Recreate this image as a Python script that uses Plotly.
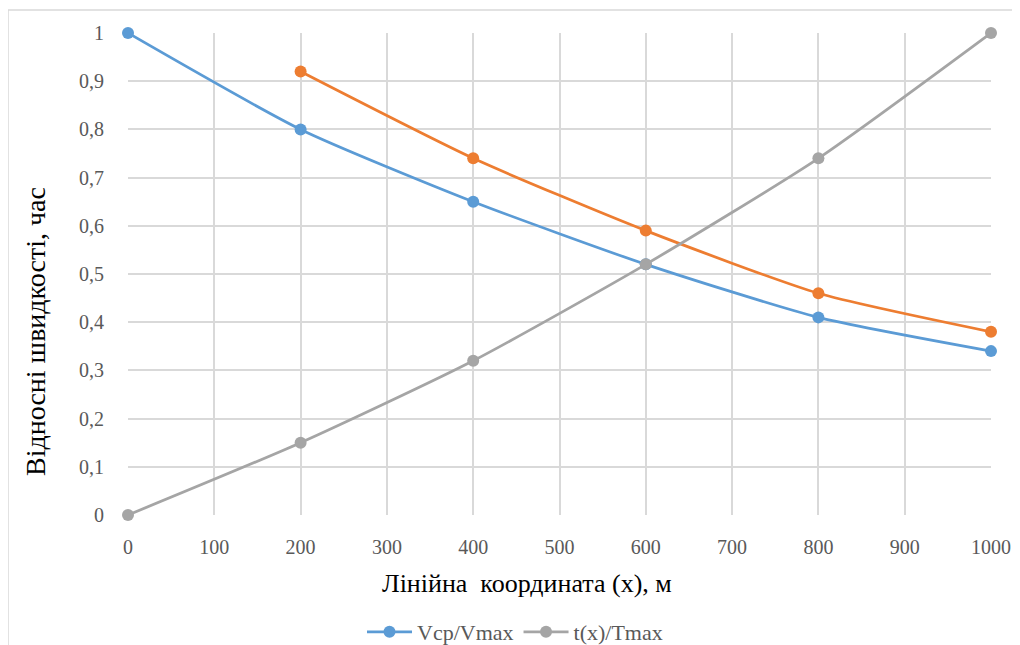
import plotly.graph_objects as go

x_vals = [0, 200, 400, 600, 800, 1000]
v_ratio = [1.0, 0.80, 0.65, 0.52, 0.41, 0.34]
x_orange = [200, 400, 600, 800, 1000]
orange_vals = [0.92, 0.74, 0.59, 0.46, 0.38]
t_ratio = [0.0, 0.15, 0.32, 0.52, 0.74, 1.0]

x_ticks = [0, 100, 200, 300, 400, 500, 600, 700, 800, 900, 1000]
y_ticks = [0, 0.1, 0.2, 0.3, 0.4, 0.5, 0.6, 0.7, 0.8, 0.9, 1.0]
y_tick_labels = ["0", "0,1", "0,2", "0,3", "0,4", "0,5", "0,6", "0,7", "0,8", "0,9", "1"]

W, H = 1020, 680
OFF = 8  # page body margin
L, R, T, B = 128 - OFF, 991 - OFF, 33 - OFF, 515 - OFF

def fx(px):
    return (px - OFF - L) / (R - L)

def fy(py):
    return (B - (py - OFF)) / (B - T)

SERIF = "Times New Roman, Liberation Serif, serif"

fig = go.Figure()
fig.add_trace(go.Scatter(x=x_vals, y=v_ratio, name="Vcp/Vmax", mode="lines+markers", cliponaxis=False,
                         line=dict(color="#5B9BD5", width=2.75, shape="spline", smoothing=0.6),
                         marker=dict(size=12, color="#5B9BD5")))
fig.add_trace(go.Scatter(x=x_orange, y=orange_vals, name="", mode="lines+markers", showlegend=False,
                         cliponaxis=False,
                         line=dict(color="#ED7D31", width=2.75, shape="spline", smoothing=0.6),
                         marker=dict(size=12, color="#ED7D31")))
fig.add_trace(go.Scatter(x=x_vals, y=t_ratio, name="t(x)/Tmax", mode="lines+markers", cliponaxis=False,
                         line=dict(color="#A5A5A5", width=2.75, shape="spline", smoothing=0.6),
                         marker=dict(size=12, color="#A5A5A5")))

tick_font = dict(family=SERIF, size=20, color="#595959")

fig.update_layout(
    width=W, height=H,
    margin=dict(l=L, r=W - R, t=T, b=H - B, pad=0),
    paper_bgcolor="white", plot_bgcolor="white",
    showlegend=True,
    legend=dict(orientation="h", x=fx(515), y=fy(632), xanchor="center", yanchor="middle",
                font=dict(family=SERIF, size=22, color="#595959"),
                itemwidth=45, bgcolor="rgba(0,0,0,0)"),
    xaxis=dict(range=[0, 1000], tickvals=x_ticks, ticktext=[str(v) for v in x_ticks],
               showgrid=True, gridcolor="#D9D9D9", gridwidth=1.5, zeroline=False, automargin=False,
               showline=False, ticks="outside", ticklen=14, tickcolor="rgba(0,0,0,0)",
               tickfont=tick_font),
    yaxis=dict(range=[0, 1], tickvals=y_ticks, ticktext=y_tick_labels,
               showgrid=True, gridcolor="#D9D9D9", gridwidth=1.5, zeroline=False, automargin=False,
               showline=False, ticks="outside", ticklen=19, tickcolor="rgba(0,0,0,0)",
               tickfont=tick_font),
    annotations=[
        dict(text="Лінійна\u00a0 координата (x), м", xref="paper", yref="paper",
             x=fx(527), y=fy(583), xanchor="center", yanchor="middle", showarrow=False,
             font=dict(family=SERIF, size=26, color="black")),
        dict(text="Відносні швидкості, час", xref="paper", yref="paper",
             x=fx(35), y=fy(332), xanchor="center", yanchor="middle", showarrow=False,
             textangle=-90, font=dict(family=SERIF, size=28, color="black")),
    ],
    shapes=[
        dict(type="line", xref="paper", yref="paper", x0=fx(8), x1=fx(1040), y0=fy(10), y1=fy(10),
             line=dict(color="#D9D9D9", width=1.5)),
        dict(type="line", xref="paper", yref="paper", x0=fx(8), x1=fx(8), y0=fy(10), y1=fy(690),
             line=dict(color="#D9D9D9", width=1.5)),
    ],
)

fig.write_html("out.html")
